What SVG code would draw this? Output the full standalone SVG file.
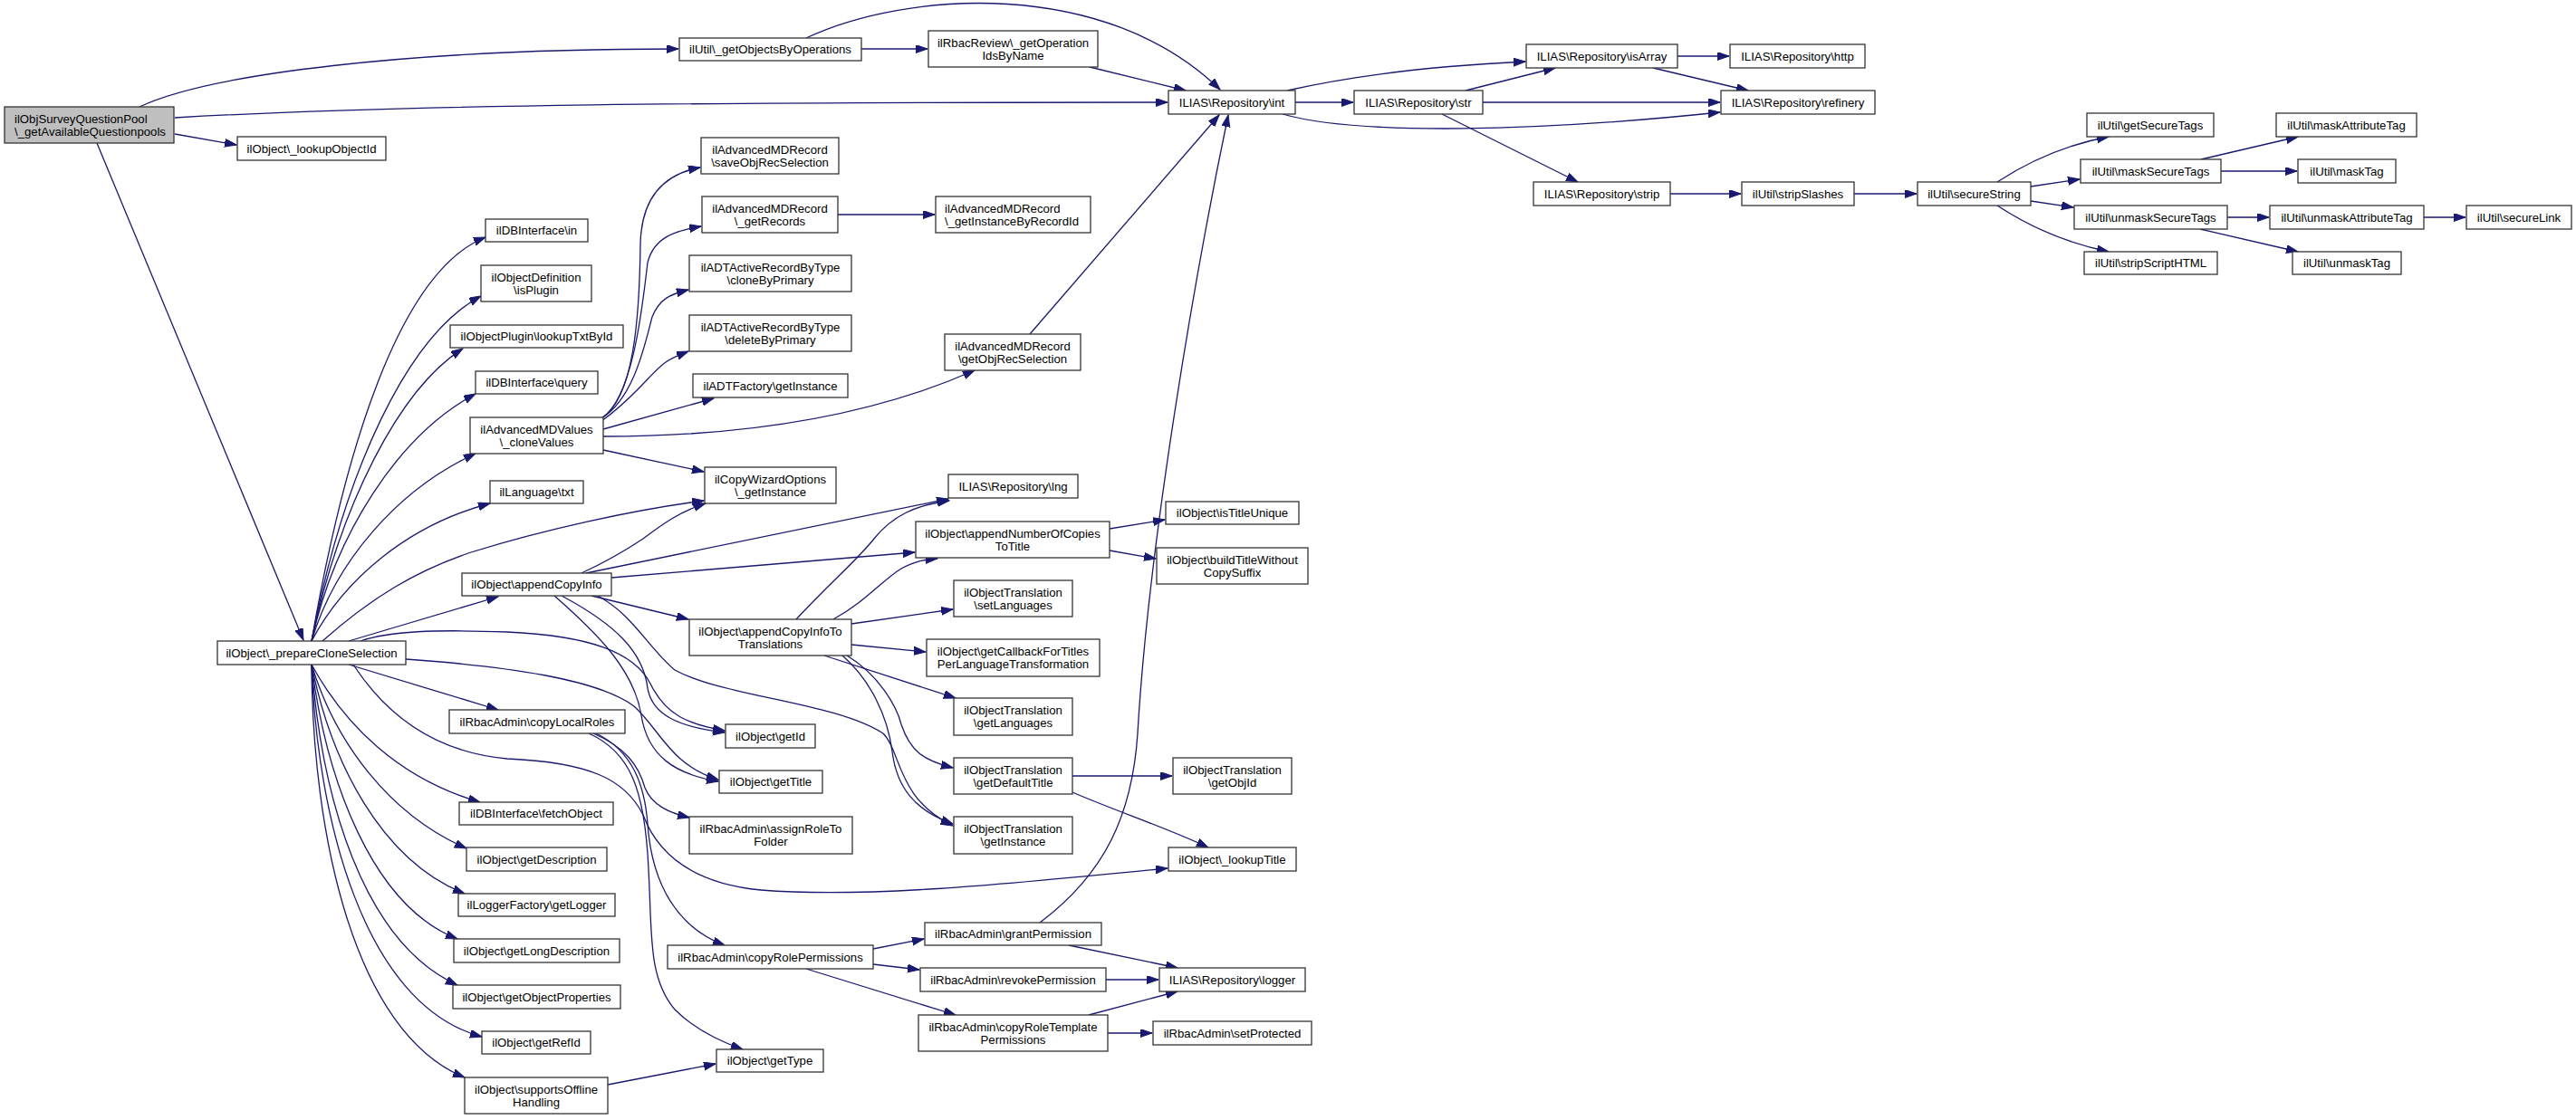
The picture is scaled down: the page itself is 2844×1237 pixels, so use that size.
<svg xmlns="http://www.w3.org/2000/svg" width="2844" height="1237" viewBox="0 0 2844 1237">
<defs>
<style>
.node rect{fill:#ffffff;stroke:#333333;stroke-width:1.3}
.node.main rect{fill:#bfbfbf}
.node text{font-family:"Liberation Sans",Arial,Helvetica,sans-serif;font-size:13.2px;fill:#000000;text-anchor:middle}
.node text.l{text-anchor:start}
.edges path{fill:none;stroke:#191970;stroke-width:1.3;marker-end:url(#arr)}
</style>
<marker id="arr" markerWidth="14" markerHeight="10" refX="13" refY="4.5" orient="auto" markerUnits="userSpaceOnUse">
<path d="M0,0 L13,4.5 L0,9 z" fill="#191970" stroke="#191970" stroke-width="1"/>
</marker>
</defs>
<rect x="0" y="0" width="2844" height="1237" fill="#ffffff"/>
<g id="edges" class="edges">
<path d="M154,118 C230,82 450,54 749,54"/>
<path d="M193,130 C450,115 800,113 1289,113"/>
<path d="M193,148 L261,160"/>
<path d="M107,158 L335,707"/>
<path d="M951,54 L1024,54"/>
<path d="M890,42 C1000,-10 1220,-25 1347,99"/>
<path d="M1203,74 L1309,100"/>
<path d="M1430,113 L1494,113"/>
<path d="M1421,100 C1500,82 1600,72 1684,68"/>
<path d="M1416,126 C1500,150 1700,145 1899,124"/>
<path d="M1618,100 L1717,75"/>
<path d="M1637,113 L1899,113"/>
<path d="M1592,126 L1742,201"/>
<path d="M1852,62 L1909,62"/>
<path d="M1825,75 L1930,100"/>
<path d="M1844,214 L1922,214"/>
<path d="M2047,214 L2116,214"/>
<path d="M2205,201 C2240,178 2280,160 2328,151"/>
<path d="M2242,206 L2296,198"/>
<path d="M2242,222 L2289,229"/>
<path d="M2205,227 C2240,250 2280,268 2328,278"/>
<path d="M2430,176 L2537,151"/>
<path d="M2452,189 L2536,189"/>
<path d="M2459,240 L2505,240"/>
<path d="M2429,253 L2537,278"/>
<path d="M2676,240 L2722,240"/>
<path d="M344,708 C380,500 440,300 536,262"/>
<path d="M344,708 C380,520 450,370 531,327"/>
<path d="M344,708 C375,560 440,430 511,385"/>
<path d="M344,708 C370,590 440,480 525,435"/>
<path d="M344,708 C370,620 440,540 525,501"/>
<path d="M344,708 C380,640 450,580 541,556"/>
<path d="M356,708 C410,660 460,630 520,610 C600,585 700,563 777,553"/>
<path d="M385,708 L550,659"/>
<path d="M385,734 L550,784"/>
<path d="M344,734 C380,800 440,860 530,886"/>
<path d="M344,734 C370,820 430,900 515,937"/>
<path d="M344,734 C365,840 420,950 513,987"/>
<path d="M344,734 C360,860 410,1000 505,1037"/>
<path d="M344,734 C355,880 400,1040 505,1088"/>
<path d="M344,734 C350,900 400,1110 532,1145"/>
<path d="M344,734 C345,920 390,1140 513,1190"/>
<path d="M398,708 C430,697 480,695 560,698 C650,702 700,720 718,755 C735,790 760,800 800,807"/>
<path d="M448,728 C560,736 660,750 700,780 C728,805 740,845 793,861"/>
<path d="M390,734 C420,780 470,830 560,838 C650,842 690,860 710,900 C725,940 760,975 840,983 C950,992 1100,978 1289,959"/>
<path d="M642,633 C670,620 695,605 710,595 C730,580 750,565 779,556"/>
<path d="M647,633 L1047,551"/>
<path d="M675,638 L1010,610"/>
<path d="M653,658 L760,684"/>
<path d="M620,658 C680,690 710,720 715,760 C720,790 750,803 800,809"/>
<path d="M612,658 C660,700 700,740 708,790 C715,835 745,855 793,863"/>
<path d="M660,658 C700,680 715,715 745,740 C800,770 920,775 975,810 C995,830 990,882 1052,912"/>
<path d="M879,684 C920,640 945,620 965,595 C985,570 1010,558 1048,553"/>
<path d="M920,684 C955,665 975,640 995,628 C1010,620 1020,618 1035,617"/>
<path d="M940,689 L1052,673"/>
<path d="M940,712 L1022,720"/>
<path d="M910,724 L1055,771"/>
<path d="M935,724 C970,745 990,780 995,800 C1005,830 1020,840 1052,848"/>
<path d="M930,724 C960,750 980,790 985,830 C990,870 1010,895 1052,910"/>
<path d="M1225,584 L1286,574"/>
<path d="M1225,608 L1276,617"/>
<path d="M1184,857 L1294,857"/>
<path d="M1184,875 C1230,895 1290,915 1334,936"/>
<path d="M664,462 C700,440 706,350 707,270 C708,215 735,192 773,185"/>
<path d="M664,462 C700,440 710,330 715,290 C722,262 745,255 774,250"/>
<path d="M664,462 C700,440 712,380 720,350 C728,330 740,325 760,320"/>
<path d="M664,465 C700,440 720,410 735,400 C742,395 750,392 760,388"/>
<path d="M666,474 L788,440"/>
<path d="M666,497 L777,521"/>
<path d="M666,482 C800,482 950,465 1076,409"/>
<path d="M925,237 L1032,237"/>
<path d="M1137,369 L1346,127"/>
<path d="M1148,1019 C1220,965 1250,900 1256,810 C1268,600 1320,300 1356,127"/>
<path d="M655,810 C690,825 705,845 712,870 C720,890 740,898 761,903"/>
<path d="M658,810 C700,830 712,870 715,910 C720,980 750,1025 800,1044"/>
<path d="M650,810 C695,830 712,870 716,960 C720,1030 715,1080 745,1115 C770,1140 800,1152 820,1159"/>
<path d="M964,1048 L1020,1037"/>
<path d="M964,1065 L1015,1071"/>
<path d="M890,1070 L1055,1121"/>
<path d="M1180,1044 L1300,1069"/>
<path d="M1221,1082 L1279,1082"/>
<path d="M1202,1121 L1300,1095"/>
<path d="M1223,1141 L1272,1141"/>
<path d="M671,1198 L790,1175"/>
</g>
<g id="n_main" class="node main"><rect x="5" y="118" width="187" height="40"/><text class="l" x="16" y="135.5">ilObjSurveyQuestionPool</text><text class="l" x="16" y="149.5">\_getAvailableQuestionpools</text></g>
<g id="n_getObjectsByOperations" class="node"><rect x="750" y="42" width="201" height="25"/><text x="850.5" y="59">ilUtil\_getObjectsByOperations</text></g>
<g id="n_getOperationIdsByName" class="node"><rect x="1025" y="34" width="187" height="40"/><text x="1118.5" y="51.5">ilRbacReview\_getOperation</text><text x="1118.5" y="65.5">IdsByName</text></g>
<g id="n_int" class="node"><rect x="1290" y="100" width="140" height="26"/><text x="1360" y="117.5">ILIAS\Repository\int</text></g>
<g id="n_lookupObjectId" class="node"><rect x="262" y="151" width="164" height="26"/><text x="344" y="168.5">ilObject\_lookupObjectId</text></g>
<g id="n_str" class="node"><rect x="1495" y="100" width="142" height="26"/><text x="1566" y="117.5">ILIAS\Repository\str</text></g>
<g id="n_isArray" class="node"><rect x="1685" y="49" width="167" height="26"/><text x="1768.5" y="66.5">ILIAS\Repository\isArray</text></g>
<g id="n_http" class="node"><rect x="1910" y="49" width="149" height="26"/><text x="1984.5" y="66.5">ILIAS\Repository\http</text></g>
<g id="n_refinery" class="node"><rect x="1900" y="100" width="170" height="26"/><text x="1985" y="117.5">ILIAS\Repository\refinery</text></g>
<g id="n_strip" class="node"><rect x="1693" y="201" width="151" height="26"/><text x="1768.5" y="218.5">ILIAS\Repository\strip</text></g>
<g id="n_stripSlashes" class="node"><rect x="1923" y="201" width="124" height="26"/><text x="1985" y="218.5">ilUtil\stripSlashes</text></g>
<g id="n_secureString" class="node"><rect x="2117" y="201" width="125" height="26"/><text x="2179.5" y="218.5">ilUtil\secureString</text></g>
<g id="n_getSecureTags" class="node"><rect x="2304" y="125" width="140" height="26"/><text x="2374" y="142.5">ilUtil\getSecureTags</text></g>
<g id="n_maskSecureTags" class="node"><rect x="2297" y="176" width="155" height="26"/><text x="2374.5" y="193.5">ilUtil\maskSecureTags</text></g>
<g id="n_unmaskSecureTags" class="node"><rect x="2290" y="227" width="169" height="26"/><text x="2374.5" y="244.5">ilUtil\unmaskSecureTags</text></g>
<g id="n_stripScriptHTML" class="node"><rect x="2301" y="278" width="147" height="25"/><text x="2374.5" y="295">ilUtil\stripScriptHTML</text></g>
<g id="n_maskAttributeTag" class="node"><rect x="2513" y="125" width="155" height="26"/><text x="2590.5" y="142.5">ilUtil\maskAttributeTag</text></g>
<g id="n_maskTag" class="node"><rect x="2537" y="176" width="108" height="26"/><text x="2591" y="193.5">ilUtil\maskTag</text></g>
<g id="n_unmaskAttributeTag" class="node"><rect x="2506" y="227" width="170" height="26"/><text x="2591" y="244.5">ilUtil\unmaskAttributeTag</text></g>
<g id="n_secureLink" class="node"><rect x="2723" y="227" width="116" height="26"/><text x="2781" y="244.5">ilUtil\secureLink</text></g>
<g id="n_unmaskTag" class="node"><rect x="2531" y="278" width="120" height="25"/><text x="2591" y="295">ilUtil\unmaskTag</text></g>
<g id="n_prepareCloneSelection" class="node"><rect x="240" y="708" width="208" height="26"/><text x="344" y="725.5">ilObject\_prepareCloneSelection</text></g>
<g id="n_dbIn" class="node"><rect x="536" y="242" width="113" height="25"/><text x="592.5" y="259">ilDBInterface\in</text></g>
<g id="n_isPlugin" class="node"><rect x="531" y="293" width="122" height="40"/><text x="592" y="310.5">ilObjectDefinition</text><text x="592" y="324.5">\isPlugin</text></g>
<g id="n_lookupTxtById" class="node"><rect x="497" y="359" width="191" height="25"/><text x="592.5" y="376">ilObjectPlugin\lookupTxtById</text></g>
<g id="n_query" class="node"><rect x="525" y="410" width="135" height="25"/><text x="592.5" y="427">ilDBInterface\query</text></g>
<g id="n_cloneValues" class="node"><rect x="519" y="461" width="147" height="40"/><text x="592.5" y="478.5">ilAdvancedMDValues</text><text x="592.5" y="492.5">\_cloneValues</text></g>
<g id="n_txt" class="node"><rect x="541" y="531" width="103" height="25"/><text x="592.5" y="548">ilLanguage\txt</text></g>
<g id="n_appendCopyInfo" class="node"><rect x="510" y="633" width="165" height="25"/><text x="592.5" y="650">ilObject\appendCopyInfo</text></g>
<g id="n_copyLocalRoles" class="node"><rect x="496" y="784" width="194" height="26"/><text x="593" y="801.5">ilRbacAdmin\copyLocalRoles</text></g>
<g id="n_fetchObject" class="node"><rect x="507" y="886" width="170" height="25"/><text x="592" y="903">ilDBInterface\fetchObject</text></g>
<g id="n_getDescription" class="node"><rect x="515" y="936" width="155" height="26"/><text x="592.5" y="953.5">ilObject\getDescription</text></g>
<g id="n_getLogger" class="node"><rect x="506" y="987" width="173" height="25"/><text x="592.5" y="1004">ilLoggerFactory\getLogger</text></g>
<g id="n_getLongDescription" class="node"><rect x="501" y="1037" width="183" height="26"/><text x="592.5" y="1054.5">ilObject\getLongDescription</text></g>
<g id="n_getObjectProperties" class="node"><rect x="500" y="1088" width="185" height="26"/><text x="592.5" y="1105.5">ilObject\getObjectProperties</text></g>
<g id="n_getRefId" class="node"><rect x="532" y="1139" width="120" height="25"/><text x="592" y="1156">ilObject\getRefId</text></g>
<g id="n_supportsOfflineHandling" class="node"><rect x="513" y="1190" width="158" height="40"/><text x="592" y="1207.5">ilObject\supportsOffline</text><text x="592" y="1221.5">Handling</text></g>
<g id="n_saveObjRecSelection" class="node"><rect x="774" y="152" width="152" height="40"/><text x="850" y="169.5">ilAdvancedMDRecord</text><text x="850" y="183.5">\saveObjRecSelection</text></g>
<g id="n_getRecords" class="node"><rect x="775" y="217" width="150" height="40"/><text x="850" y="234.5">ilAdvancedMDRecord</text><text x="850" y="248.5">\_getRecords</text></g>
<g id="n_getInstanceByRecordId" class="node"><rect x="1033" y="217" width="171" height="40"/><text class="l" x="1043" y="234.5">ilAdvancedMDRecord</text><text class="l" x="1043" y="248.5">\_getInstanceByRecordId</text></g>
<g id="n_cloneByPrimary" class="node"><rect x="761" y="282" width="179" height="40"/><text x="850.5" y="299.5">ilADTActiveRecordByType</text><text x="850.5" y="313.5">\cloneByPrimary</text></g>
<g id="n_deleteByPrimary" class="node"><rect x="761" y="348" width="179" height="40"/><text x="850.5" y="365.5">ilADTActiveRecordByType</text><text x="850.5" y="379.5">\deleteByPrimary</text></g>
<g id="n_getObjRecSelection" class="node"><rect x="1043" y="369" width="150" height="40"/><text x="1118" y="386.5">ilAdvancedMDRecord</text><text x="1118" y="400.5">\getObjRecSelection</text></g>
<g id="n_adtFactory" class="node"><rect x="765" y="413" width="171" height="26"/><text x="850.5" y="430.5">ilADTFactory\getInstance</text></g>
<g id="n_copyWizard" class="node"><rect x="778" y="516" width="145" height="40"/><text x="850.5" y="533.5">ilCopyWizardOptions</text><text x="850.5" y="547.5">\_getInstance</text></g>
<g id="n_lng" class="node"><rect x="1047" y="524" width="143" height="26"/><text x="1118.5" y="541.5">ILIAS\Repository\lng</text></g>
<g id="n_appendNumberOfCopies" class="node"><rect x="1011" y="576" width="214" height="40"/><text x="1118" y="593.5">ilObject\appendNumberOfCopies</text><text x="1118" y="607.5">ToTitle</text></g>
<g id="n_isTitleUnique" class="node"><rect x="1287" y="554" width="147" height="25"/><text x="1360.5" y="571">ilObject\isTitleUnique</text></g>
<g id="n_buildTitle" class="node"><rect x="1277" y="605" width="167" height="40"/><text x="1360.5" y="622.5">ilObject\buildTitleWithout</text><text x="1360.5" y="636.5">CopySuffix</text></g>
<g id="n_setLanguages" class="node"><rect x="1053" y="641" width="131" height="40"/><text x="1118.5" y="658.5">ilObjectTranslation</text><text x="1118.5" y="672.5">\setLanguages</text></g>
<g id="n_appendCopyInfoToTranslations" class="node"><rect x="761" y="684" width="179" height="40"/><text x="850.5" y="701.5">ilObject\appendCopyInfoTo</text><text x="850.5" y="715.5">Translations</text></g>
<g id="n_getCallback" class="node"><rect x="1023" y="706" width="191" height="41"/><text x="1118.5" y="723.5">ilObject\getCallbackForTitles</text><text x="1118.5" y="737.5">PerLanguageTransformation</text></g>
<g id="n_getLanguages" class="node"><rect x="1053" y="771" width="131" height="41"/><text x="1118.5" y="788.5">ilObjectTranslation</text><text x="1118.5" y="802.5">\getLanguages</text></g>
<g id="n_getId" class="node"><rect x="801" y="800" width="99" height="26"/><text x="850.5" y="817.5">ilObject\getId</text></g>
<g id="n_getTitle" class="node"><rect x="794" y="851" width="114" height="25"/><text x="851" y="868">ilObject\getTitle</text></g>
<g id="n_assignRoleToFolder" class="node"><rect x="761" y="902" width="180" height="41"/><text x="851" y="919.5">ilRbacAdmin\assignRoleTo</text><text x="851" y="933.5">Folder</text></g>
<g id="n_getDefaultTitle" class="node"><rect x="1053" y="837" width="131" height="40"/><text x="1118.5" y="854.5">ilObjectTranslation</text><text x="1118.5" y="868.5">\getDefaultTitle</text></g>
<g id="n_getObjId" class="node"><rect x="1295" y="837" width="131" height="40"/><text x="1360.5" y="854.5">ilObjectTranslation</text><text x="1360.5" y="868.5">\getObjId</text></g>
<g id="n_otGetInstance" class="node"><rect x="1053" y="902" width="131" height="41"/><text x="1118.5" y="919.5">ilObjectTranslation</text><text x="1118.5" y="933.5">\getInstance</text></g>
<g id="n_lookupTitle" class="node"><rect x="1290" y="936" width="141" height="26"/><text x="1360.5" y="953.5">ilObject\_lookupTitle</text></g>
<g id="n_grantPermission" class="node"><rect x="1021" y="1019" width="195" height="25"/><text x="1118.5" y="1036">ilRbacAdmin\grantPermission</text></g>
<g id="n_copyRolePermissions" class="node"><rect x="737" y="1044" width="227" height="26"/><text x="850.5" y="1061.5">ilRbacAdmin\copyRolePermissions</text></g>
<g id="n_revokePermission" class="node"><rect x="1016" y="1069" width="205" height="26"/><text x="1118.5" y="1086.5">ilRbacAdmin\revokePermission</text></g>
<g id="n_logger" class="node"><rect x="1280" y="1069" width="161" height="26"/><text x="1360.5" y="1086.5">ILIAS\Repository\logger</text></g>
<g id="n_copyRoleTemplatePermissions" class="node"><rect x="1014" y="1121" width="209" height="40"/><text x="1118.5" y="1138.5">ilRbacAdmin\copyRoleTemplate</text><text x="1118.5" y="1152.5">Permissions</text></g>
<g id="n_setProtected" class="node"><rect x="1273" y="1128" width="175" height="26"/><text x="1360.5" y="1145.5">ilRbacAdmin\setProtected</text></g>
<g id="n_getType" class="node"><rect x="791" y="1159" width="118" height="25"/><text x="850" y="1176">ilObject\getType</text></g>
</svg>
